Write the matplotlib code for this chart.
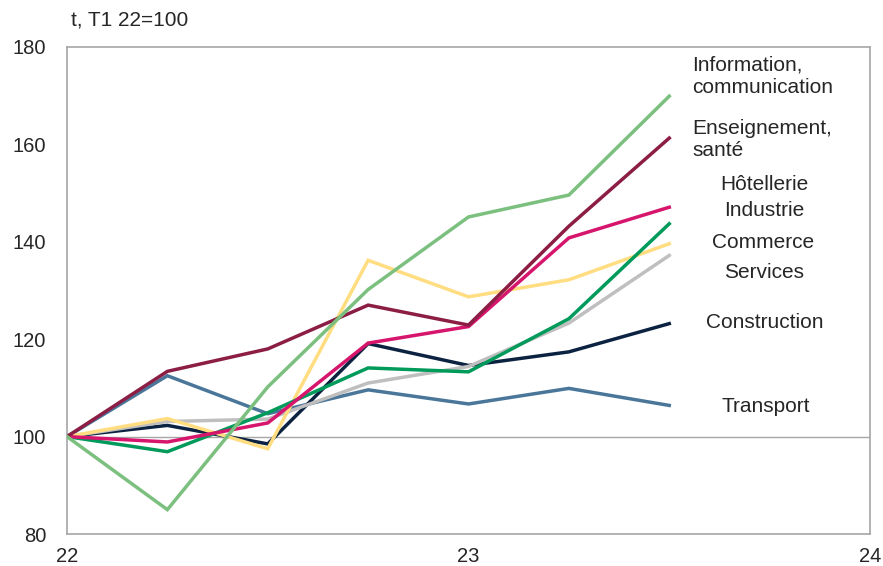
import matplotlib
matplotlib.use("Agg")
import matplotlib.pyplot as plt

plt.rcParams['font.family'] = ['Liberation Sans', 'DejaVu Sans']

x = [22.0, 22.25, 22.5, 22.75, 23.0, 23.25, 23.5]

transport = [100, 112.5, 104.7, 109.6, 106.7, 109.9, 106.4]
construction = [100, 102.3, 98.5, 119.1, 114.6, 117.4, 123.2]
services = [100, 103.1, 103.6, 111.0, 114.4, 123.3, 137.2]
commerce = [100, 103.7, 97.5, 136.2, 128.7, 132.2, 139.6]
industrie = [100, 96.9, 104.9, 114.1, 113.3, 124.2, 143.7]
hotellerie = [100, 98.9, 102.8, 119.2, 122.6, 140.8, 147.1]
enseignement = [100, 113.4, 118.0, 127.0, 122.9, 143.2, 161.3]
information = [100, 85.0, 110.2, 130.2, 145.1, 149.6, 169.9]

series = [
    (transport, '#4A7699'),
    (construction, '#0B2341'),
    (services, '#BFBFBF'),
    (commerce, '#FFDD80'),
    (industrie, '#009A5B'),
    (hotellerie, '#D6156C'),
    (enseignement, '#8C1D44'),
    (information, '#7CC07F'),
]

labels = [
    ("Information,\ncommunication", 692, 76, 'left'),
    ("Enseignement,\nsanté", 692, 139, 'left'),
    ("Hôtellerie", 764, 184, 'center'),
    ("Industrie", 764, 211, 'center'),
    ("Commerce", 763, 243, 'center'),
    ("Services", 764, 272, 'center'),
    ("Construction", 765, 323, 'center'),
    ("Transport", 766, 406, 'center'),
]

fig = plt.figure(figsize=(8.83, 5.66), dpi=100)
ax = fig.add_axes([67/883, 1-534/566, (870-67)/883, (534-47)/566])

ax.axhline(100, color='#A6A6A6', lw=1.0, zorder=1)
for vals, col in series:
    ax.plot(x, vals, color=col, lw=2.5, solid_joinstyle='miter', zorder=3)

ax.set_xlim(22, 24)
ax.set_ylim(80, 180)
ax.set_xticks([22, 23, 24])
ax.set_xticklabels(['22', '23', '24'])
ax.set_yticks([80, 100, 120, 140, 160, 180])
ax.tick_params(axis='both', length=0, labelsize=14.5, colors='#262626')
ax.tick_params(axis='y', pad=15)
ax.tick_params(axis='x', pad=9)
for s in ax.spines.values():
    s.set_color('#A6A6A6')
    s.set_linewidth(1.2)

for txt, px, py, ha in labels:
    fig.text(px/883, 1-py/566, txt, ha=ha, va='center', fontsize=15,
             color='#262626', linespacing=1.2)

fig.text(71/883, 1-20/566, "t, T1 22=100", ha='left', va='center',
         fontsize=15, color='#262626')

fig.savefig('out.png', dpi=100)
